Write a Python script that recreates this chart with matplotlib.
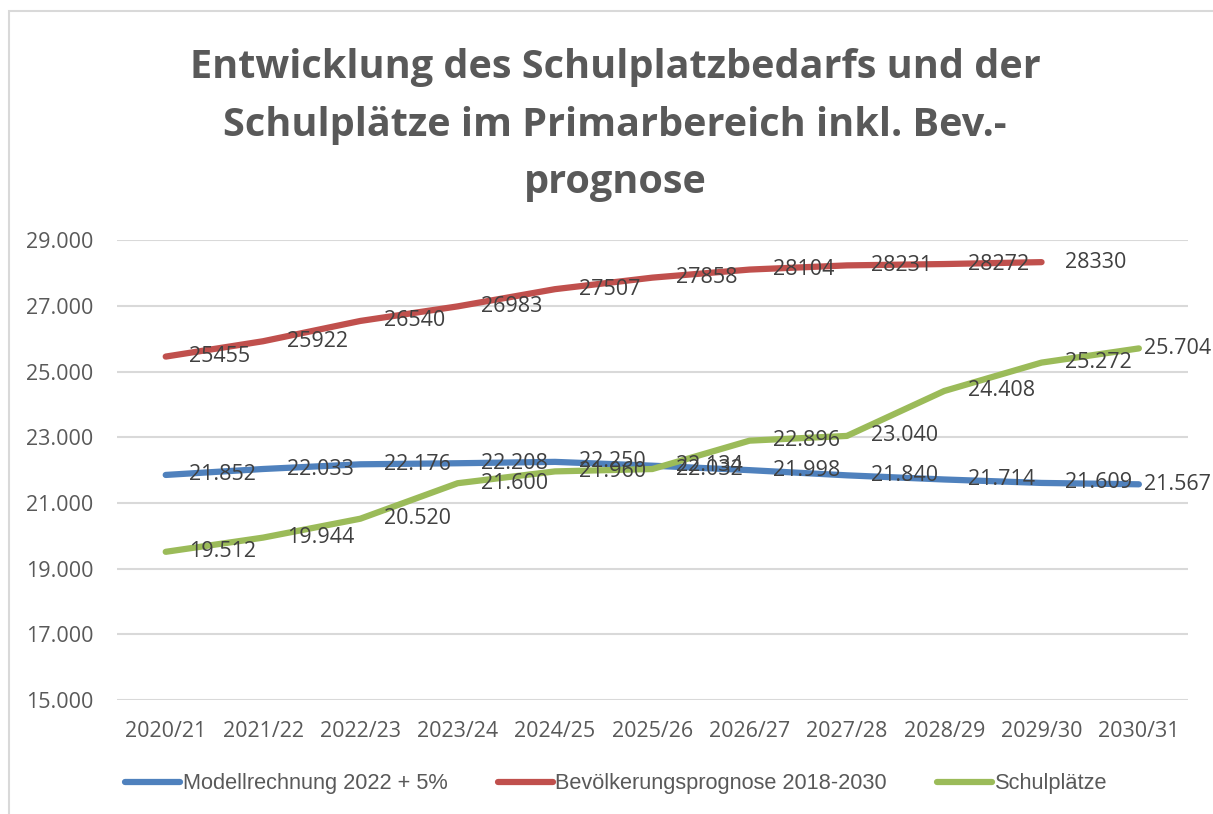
import matplotlib
matplotlib.use("Agg")
import matplotlib.pyplot as plt
from matplotlib.patches import Rectangle

# Daten aus dem Diagramm
jahre = ["2020/21", "2021/22", "2022/23", "2023/24", "2024/25", "2025/26",
         "2026/27", "2027/28", "2028/29", "2029/30", "2030/31"]
modell = [21852, 22033, 22176, 22208, 22250, 22134, 21998, 21840, 21714, 21609, 21567]
bevoelkerung = [25455, 25922, 26540, 26983, 27507, 27858, 28104, 28231, 28272, 28330]
schulplaetze = [19512, 19944, 20520, 21600, 21960, 22032, 22896, 23040, 24408, 25272, 25704]

titel = "Entwicklung des Schulplatzbedarfs und der\nSchulplätze im Primarbereich inkl. Bev.-\nprognose"
namen = ["Modellrechnung 2022 + 5%", "Bevölkerungsprognose 2018-2030", "Schulplätze"]
farben = ["#4F81BD", "#C0504D", "#9BBB59"]

def de_format(v):
    return f"{v:,.0f}".replace(",", ".")

fig = plt.figure(figsize=(12.13, 8.14), dpi=100)
ax = fig.add_axes([0.0965, 0.140, 0.8825, 0.565])

# Rahmen des Diagramms (nur oben/links sichtbar)
fig.patches.append(Rectangle((9 / 1213, -0.1), 1.2, 1 - 11 / 814 + 0.1,
                             transform=fig.transFigure, fill=False,
                             edgecolor="#D9D9D9", linewidth=1.5))

serien = [
    (modell, True),
    (bevoelkerung, False),
    (schulplaetze, True),
]
for (werte, punkte), name, farbe in zip(serien, namen, farben):
    x = list(range(len(werte)))
    ax.plot(x, werte, color=farbe, linewidth=4.5, solid_capstyle="round",
            solid_joinstyle="round", label=name, zorder=3)
    for i, v in enumerate(werte):
        txt = de_format(v) if punkte else str(v)
        dx = 4 if i == 10 else 17
        ax.annotate(txt, (i, v), xytext=(dx, 0), textcoords="offset points",
                    ha="left", va="center", fontsize=15.5, color="#404040",
                    family="Open Sans", zorder=4)

ax.set_xlim(-0.5, 10.5)
ax.set_ylim(15000, 29000)
ax.set_yticks(range(15000, 29001, 2000))
ax.set_yticklabels([de_format(v) for v in range(15000, 29001, 2000)])
ax.set_xticks(range(len(jahre)))
ax.set_xticklabels(jahre)
ax.grid(axis="y", color="#D9D9D9", linewidth=1.5, zorder=0)
ax.tick_params(length=0, labelsize=15.5, labelcolor="#595959")
ax.tick_params(axis="y", pad=17)
ax.tick_params(axis="x", pad=15)
for lab in ax.get_xticklabels() + ax.get_yticklabels():
    lab.set_family("Open Sans")
for s in ax.spines.values():
    s.set_visible(False)

fig.text(0.507, 0.941, titel, ha="center", va="top", fontsize=28.5,
         fontweight="bold", color="#595959", family="Open Sans",
         linespacing=1.62)

fig.legend(loc="center", bbox_to_anchor=(0.508, 1 - 784 / 814), ncol=3,
           frameon=False, handlelength=2.52, handletextpad=0.12,
           columnspacing=2.3, labelcolor="#595959",
           prop={"family": "Liberation Sans", "size": 15.7})

fig.savefig("out.png", dpi=100, facecolor="white")
